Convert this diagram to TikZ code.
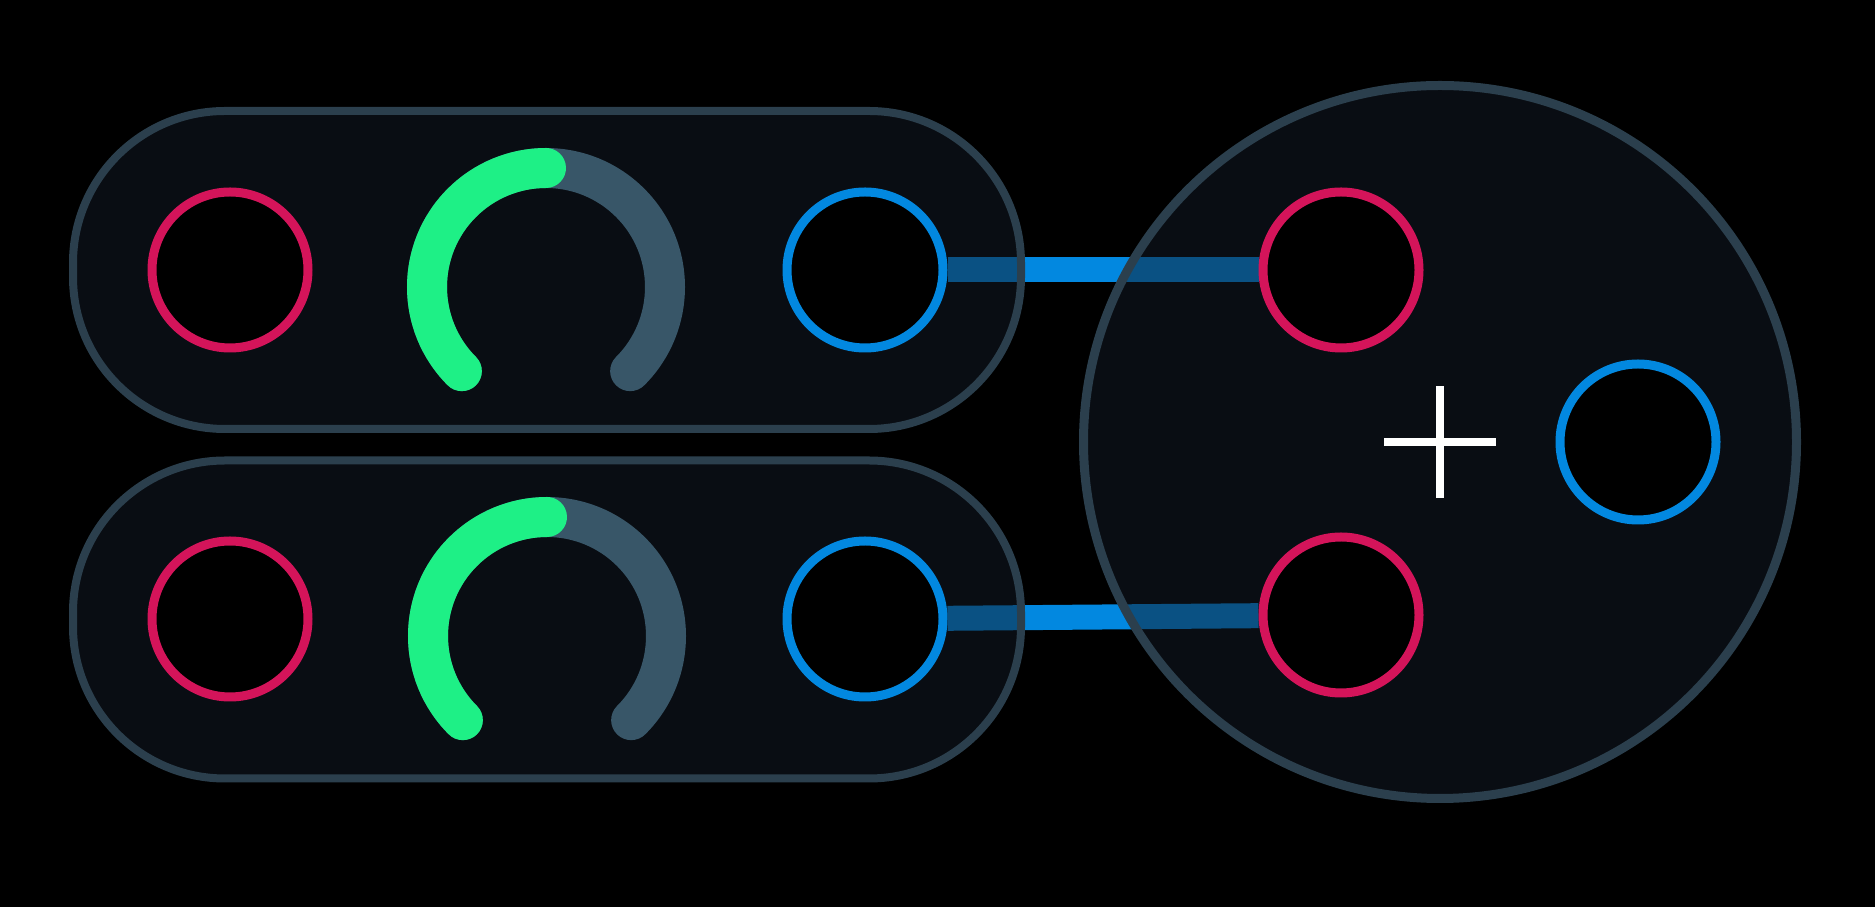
\documentclass[tikz,border=0pt]{standalone}
\usepackage{xcolor}
\usepackage{tikz}
\usetikzlibrary{shapes.geometric, arrows.meta, positioning, calc}
\definecolor{inred}{HTML}{D4145A}
\definecolor{outblue}{HTML}{0288E0}
\definecolor{knobgreen}{HTML}{1EF086}
\definecolor{trackgrey}{HTML}{385668}
\definecolor{edgegrey}{HTML}{2B3F4D}
\definecolor{panelfill}{HTML}{121B27}
\pgfdeclarelayer{back}
\pgfsetlayers{back,main}

\begin{document}
\begin{tikzpicture}[
    x=1pt, y=1pt,
    panel/.style={rectangle, rounded corners=152pt, draw=edgegrey, line width=8pt, fill=panelfill, fill opacity=0.5, minimum width=948pt, minimum height=318pt},
    mixer/.style={circle, draw=edgegrey, line width=9pt, fill=panelfill, fill opacity=0.5, minimum size=713pt, inner sep=0pt},
    port/.style={circle, fill=black, line width=9pt, minimum size=156pt, inner sep=0pt},
    inport/.style={port, draw=inred},
    outport/.style={port, draw=outblue},
    wire/.style={outblue, line width=25pt},
    knobtrack/.style={trackgrey, line width=40pt, line cap=round},
    knobvalue/.style={knobgreen, line width=40pt, line cap=round},
    plusbar/.style={white, line width=8pt}
]
    \useasboundingbox (0,0) rectangle (1875,907);

    % Channel strips
    \node[panel] (strip1) at (547,637) {};
    \node[panel] (strip2) at (547,287.5) {};

    % Mixer
    \node[mixer] (mix) at (1440,465) {};

    % Ports
    \node[inport] (in1) at (230,637) {};
    \node[inport] (in2) at (230,288) {};
    \node[outport] (out1) at (865,637) {};
    \node[outport] (out2) at (865,288) {};
    \node[inport] (mixin1) at (1341,637) {};
    \node[inport] (mixin2) at (1341,292) {};
    \node[outport] (sum) at (1638,465) {};

    % Gain knobs
    \coordinate (knob1) at (546,620);
    \coordinate (knob2) at (547,271);
    \foreach \k in {knob1, knob2} {
        \draw[knobtrack] ($(\k)+(225:119pt)$) arc[start angle=225, end angle=-45, radius=119pt];
        \draw[knobvalue] ($(\k)+(225:119pt)$) arc[start angle=225, end angle=90, radius=119pt];
    }

    % Plus sign
    \coordinate (plus) at (mix.center);
    \draw[plusbar] ($(plus)+(-56,0)$) -- ($(plus)+(56,0)$);
    \draw[plusbar] ($(plus)+(0,-56)$) -- ($(plus)+(0,56)$);

    % Wires (behind)
    \begin{pgfonlayer}{back}
        \fill[black] (0,0) rectangle (1875,907);
        \draw[wire] (out1) -- (mixin1);
        \draw[wire] (out2) -- (mixin2);
    \end{pgfonlayer}
\end{tikzpicture}
\end{document}
